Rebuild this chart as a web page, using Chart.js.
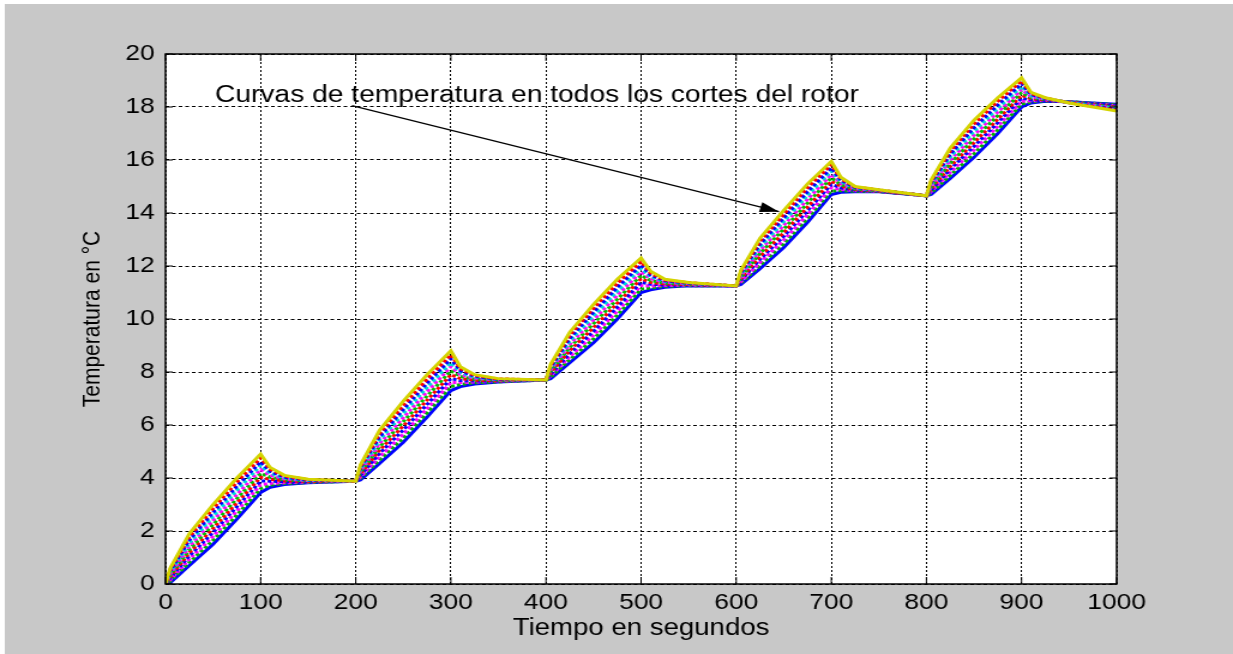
<!DOCTYPE html>
<html lang="es">
<head>
    <meta charset="UTF-8">
    <title>Curvas de temperatura del rotor</title>
    <script src="https://cdn.jsdelivr.net/npm/chart.js"></script>
    <style>
        body { margin: 0; background: #ffffff; }
    </style>
</head>
<body>
    <!-- el lienzo se dibuja a 1028 px de ancho y se estira a 1233 px -->
    <canvas id="grafico" width="1028" height="654" style="display:block;width:1233px;height:654px"></canvas>

    <script>
        // Tiempo (s) de cada muestra
        const tiempo = [0, 5, 25, 50, 75, 100, 110, 125, 150,
                        200, 205, 225, 250, 275, 300, 310, 325, 350,
                        400, 405, 425, 450, 475, 500, 510, 525, 550,
                        600, 605, 625, 650, 675, 700, 710, 725, 750,
                        800, 805, 825, 850, 875, 900, 910, 925, 950,
                        1000];

        // Temperatura (°C) en cada corte del rotor, de la superficie hacia adentro
        const corte1 = [0, 0.6, 1.9, 3.0, 4.0, 4.9, 4.4, 4.1, 3.95,
                        3.88, 4.5, 5.8, 6.9, 7.9, 8.8, 8.2, 7.9, 7.75,
                        7.7, 8.3, 9.5, 10.55, 11.5, 12.3, 11.8, 11.5, 11.38,
                        11.25, 11.85, 13.05, 14.1, 15.1, 15.95, 15.35, 15.0, 14.88,
                        14.65, 15.25, 16.45, 17.5, 18.35, 19.1, 18.55, 18.35, 18.15,
                        17.85];
        const corte2 = [0, 0.55, 1.78, 2.85, 3.85, 4.76, 4.33, 4.07, 3.94,
                        3.88, 4.44, 5.68, 6.75, 7.74, 8.65, 8.13, 7.87, 7.74,
                        7.7, 8.25, 9.39, 10.41, 11.35, 12.17, 11.73, 11.47, 11.37,
                        11.25, 11.8, 12.94, 13.96, 14.96, 15.83, 15.29, 14.98, 14.87,
                        14.65, 15.2, 16.34, 17.36, 18.22, 18.99, 18.51, 18.34, 18.16,
                        17.88];
        const corte3 = [0, 0.49, 1.66, 2.7, 3.69, 4.61, 4.25, 4.03, 3.92,
                        3.88, 4.39, 5.55, 6.59, 7.58, 8.5, 8.05, 7.83, 7.72,
                        7.7, 8.19, 9.27, 10.26, 11.2, 12.04, 11.66, 11.44, 11.35,
                        11.25, 11.74, 12.82, 13.82, 14.81, 15.7, 15.24, 14.96, 14.86,
                        14.65, 15.14, 16.22, 17.22, 18.08, 18.88, 18.47, 18.32, 18.16,
                        17.9];
        const corte4 = [0, 0.44, 1.54, 2.55, 3.54, 4.47, 4.18, 4.0, 3.91,
                        3.88, 4.33, 5.43, 6.44, 7.42, 8.35, 7.98, 7.8, 7.71,
                        7.7, 8.14, 9.16, 10.12, 11.05, 11.91, 11.59, 11.41, 11.34,
                        11.25, 11.69, 12.71, 13.68, 14.67, 15.58, 15.18, 14.94, 14.86,
                        14.65, 15.09, 16.11, 17.08, 17.95, 18.77, 18.43, 18.31, 18.17,
                        17.93];
        const corte5 = [0, 0.38, 1.42, 2.4, 3.38, 4.32, 4.1, 3.96, 3.9,
                        3.88, 4.27, 5.3, 6.28, 7.26, 8.2, 7.9, 7.76, 7.7,
                        7.7, 8.08, 9.04, 9.97, 10.9, 11.78, 11.52, 11.38, 11.33,
                        11.25, 11.63, 12.59, 13.54, 14.52, 15.45, 15.12, 14.92, 14.85,
                        14.65, 15.03, 15.99, 16.94, 17.81, 18.66, 18.39, 18.3, 18.17,
                        17.95];
        const corte6 = [0, 0.33, 1.3, 2.25, 3.23, 4.18, 4.03, 3.93, 3.89,
                        3.88, 4.22, 5.18, 6.13, 7.1, 8.05, 7.83, 7.73, 7.69,
                        7.7, 8.03, 8.93, 9.83, 10.75, 11.65, 11.45, 11.35, 11.32,
                        11.25, 11.58, 12.48, 13.4, 14.38, 15.33, 15.07, 14.9, 14.84,
                        14.65, 14.98, 15.88, 16.8, 17.68, 18.55, 18.35, 18.29, 18.18,
                        17.98];
        const corte7 = [0, 0.27, 1.18, 2.1, 3.07, 4.03, 3.95, 3.89, 3.87,
                        3.88, 4.16, 5.05, 5.97, 6.94, 7.9, 7.75, 7.69, 7.67,
                        7.7, 7.97, 8.81, 9.68, 10.6, 11.52, 11.38, 11.32, 11.3,
                        11.25, 11.52, 12.36, 13.26, 14.23, 15.2, 15.01, 14.88, 14.83,
                        14.65, 14.92, 15.76, 16.66, 17.54, 18.44, 18.31, 18.27, 18.18,
                        18.0];
        const corte8 = [0, 0.22, 1.06, 1.95, 2.92, 3.89, 3.88, 3.86, 3.86,
                        3.88, 4.1, 4.93, 5.82, 6.78, 7.75, 7.68, 7.66, 7.66,
                        7.7, 7.92, 8.7, 9.54, 10.45, 11.39, 11.31, 11.29, 11.29,
                        11.25, 11.47, 12.25, 13.12, 14.09, 15.08, 14.95, 14.86, 14.82,
                        14.65, 14.87, 15.65, 16.52, 17.41, 18.33, 18.27, 18.26, 18.19,
                        18.03];
        const corte9 = [0, 0.16, 0.94, 1.8, 2.76, 3.74, 3.8, 3.82, 3.85,
                        3.88, 4.04, 4.8, 5.66, 6.62, 7.6, 7.6, 7.62, 7.65,
                        7.7, 7.86, 8.58, 9.39, 10.3, 11.26, 11.24, 11.26, 11.28,
                        11.25, 11.41, 12.13, 12.98, 13.94, 14.95, 14.89, 14.84, 14.82,
                        14.65, 14.81, 15.53, 16.38, 17.27, 18.22, 18.23, 18.25, 18.19,
                        18.05];
        const corte10 = [0, 0.11, 0.82, 1.65, 2.61, 3.6, 3.73, 3.79, 3.83,
                         3.88, 3.99, 4.68, 5.51, 6.46, 7.45, 7.53, 7.59, 7.63,
                         7.7, 7.81, 8.47, 9.25, 10.15, 11.13, 11.17, 11.23, 11.26,
                         11.25, 11.36, 12.02, 12.84, 13.8, 14.83, 14.84, 14.82, 14.81,
                         14.65, 14.76, 15.42, 16.24, 17.14, 18.11, 18.19, 18.23, 18.2,
                         18.08];
        const corte11 = [0, 0.05, 0.7, 1.5, 2.45, 3.45, 3.65, 3.75, 3.82,
                         3.88, 3.93, 4.55, 5.35, 6.3, 7.3, 7.45, 7.55, 7.62,
                         7.7, 7.75, 8.35, 9.1, 10.0, 11.0, 11.1, 11.2, 11.25,
                         11.25, 11.3, 11.9, 12.7, 13.65, 14.7, 14.78, 14.8, 14.8,
                         14.65, 14.7, 15.3, 16.1, 17.0, 18.0, 18.15, 18.22, 18.2,
                         18.1];

        const cortes = [corte1, corte2, corte3, corte4, corte5, corte6,
                        corte7, corte8, corte9, corte10, corte11];
        const colores = ['#d4d400', '#ff0000', '#0000ff', '#00d8d8', '#ff00ff', '#00c000',
                         '#ff0000', '#0000ff', '#ff00ff', '#00b000', '#0000ff'];

        // Ticks de los ejes
        const ticksX = [0, 100, 200, 300, 400, 500, 600, 700, 800, 900, 1000];
        const ticksY = [0, 2, 4, 6, 8, 10, 12, 14, 16, 18, 20];

        // Texto y flecha (en coordenadas de datos)
        const textoNota = 'Curvas de temperatura en todos los cortes del rotor';
        const posNota = { x: 52, y: 18.2 };
        const flecha = { x0: 196, y0: 18.05, x1: 645, y1: 14.05 };

        const fuente = '"Liberation Sans", Arial, sans-serif';
        Chart.defaults.font.family = fuente;
        Chart.defaults.color = '#000000';

        // Fondo gris, marco, marcas hacia adentro, nota y flecha
        const marco = {
            id: 'marco',
            beforeDraw(chart) {
                const ctx = chart.ctx;
                const a = chart.chartArea;
                ctx.save();
                ctx.fillStyle = '#c8c8c8';
                ctx.fillRect(4, 4, chart.width - 4, chart.height - 4);
                ctx.fillStyle = '#ffffff';
                ctx.fillRect(a.left, a.top, a.right - a.left, a.bottom - a.top);
                ctx.restore();
            },
            afterDraw(chart) {
                const ctx = chart.ctx;
                const a = chart.chartArea;
                const xs = chart.scales.x;
                const ys = chart.scales.y;
                ctx.save();
                ctx.strokeStyle = '#000000';
                ctx.lineWidth = 1;
                ctx.beginPath();
                ticksX.forEach(v => {
                    const px = xs.getPixelForValue(v);
                    ctx.moveTo(px, a.bottom); ctx.lineTo(px, a.bottom - 7);
                    ctx.moveTo(px, a.top); ctx.lineTo(px, a.top + 7);
                });
                ticksY.forEach(v => {
                    const py = ys.getPixelForValue(v);
                    ctx.moveTo(a.left, py); ctx.lineTo(a.left + 6, py);
                    ctx.moveTo(a.right, py); ctx.lineTo(a.right - 6, py);
                });
                ctx.stroke();
                ctx.lineWidth = 1.5;
                ctx.strokeRect(a.left, a.top, a.right - a.left, a.bottom - a.top);

                // nota
                ctx.fillStyle = '#000000';
                ctx.font = '23.5px ' + fuente;
                ctx.textAlign = 'left';
                ctx.textBaseline = 'alphabetic';
                ctx.fillText(textoNota, xs.getPixelForValue(posNota.x), ys.getPixelForValue(posNota.y));

                // flecha
                const x0 = xs.getPixelForValue(flecha.x0), y0 = ys.getPixelForValue(flecha.y0);
                const x1 = xs.getPixelForValue(flecha.x1), y1 = ys.getPixelForValue(flecha.y1);
                const ang = Math.atan2(y1 - y0, x1 - x0);
                ctx.lineWidth = 1.2;
                ctx.beginPath();
                ctx.moveTo(x0, y0);
                ctx.lineTo(x1, y1);
                ctx.stroke();
                ctx.beginPath();
                ctx.moveTo(x1, y1);
                ctx.lineTo(x1 - 16 * Math.cos(ang) + 5 * Math.sin(ang), y1 - 16 * Math.sin(ang) - 5 * Math.cos(ang));
                ctx.lineTo(x1 - 16 * Math.cos(ang) - 5 * Math.sin(ang), y1 - 16 * Math.sin(ang) + 5 * Math.cos(ang));
                ctx.closePath();
                ctx.fill();
                ctx.restore();
            }
        };

        // líneas punteadas y gruesas para que la franja se vea moteada
        const datasets = cortes.map((serie, i) => ({
            label: 'Corte ' + (i + 1),
            data: tiempo.map((t, j) => ({ x: t, y: serie[j] })),
            borderColor: colores[i],
            borderWidth: 3,
            borderDash: i === 0 || i === 10 ? [] : [3, 2],
            borderDashOffset: i * 1.3,
            pointRadius: 0,
            tension: 0,
            fill: false
        }));

        new Chart(document.getElementById('grafico'), {
            type: 'line',
            data: { datasets },
            options: {
                responsive: false,
                animation: false,
                layout: { padding: { left: 0, right: 97, top: 54, bottom: 0 } },
                plugins: { legend: { display: false }, tooltip: { enabled: false } },
                scales: {
                    x: {
                        type: 'linear',
                        min: 0,
                        max: 1000,
                        afterFit: s => { s.height = 70; },
                        afterBuildTicks: s => { s.ticks = ticksX.map(v => ({ value: v })); },
                        ticks: { autoSkip: false, maxRotation: 0, padding: 6, font: { size: 22 }, color: '#000',
                                 callback: v => String(v) },
                        grid: { color: '#000000', lineWidth: 1, drawTicks: false },
                        border: { display: false, dash: [2, 2] },
                        title: { display: true, text: 'Tiempo en segundos', font: { size: 23 }, padding: { top: 0, bottom: 12 } }
                    },
                    y: {
                        type: 'linear',
                        min: 0,
                        max: 20,
                        afterFit: s => { s.width = 138; },
                        afterBuildTicks: s => { s.ticks = ticksY.map(v => ({ value: v })); },
                        ticks: { padding: 9, font: { size: 22 }, color: '#000', callback: v => String(v) },
                        grid: { color: '#000000', lineWidth: 1, drawTicks: false },
                        border: { display: false, dash: [3, 2.5] },
                        title: { display: true, text: 'Temperatura en °C', font: { size: 21 }, padding: { top: 65, bottom: 0 } }
                    }
                }
            },
            plugins: [marco]
        });
    </script>
</body>
</html>
